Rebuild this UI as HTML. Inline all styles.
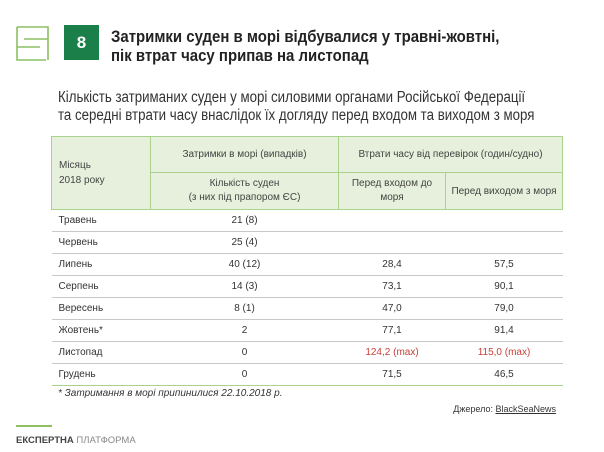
<!DOCTYPE html>
<html><head><meta charset="utf-8"><style>
body{margin:0;width:604px;height:452px;background:#fff;font-family:"Liberation Sans",sans-serif;position:relative;overflow:hidden;color:#222}
.a{position:absolute}
table{position:absolute;left:51px;top:136px;width:511px;border-collapse:collapse;font-size:10px;table-layout:fixed}
th{background:#e6f0dc;border:1px solid #a9d38c;font-weight:normal;color:#444;padding:0}
td{border-bottom:1px solid #c8c8c8;height:21px;padding:0;text-align:center;color:#333}
td:first-child{text-align:left;padding-left:7px}
tr:last-child td{border-bottom:1px solid #a9d38c}
.r{color:#c8403a}
</style></head><body>
<div class="a" style="left:16px;top:25px;width:34px;height:35px">
<svg width="36" height="36"><path d="M1 2H32V35M1 2V22M1 22V35H30M1 22H24M8 14H32" stroke="#8cc063" stroke-width="1.6" fill="none"/></svg></div>
<div class="a" style="left:64px;top:25px;width:35px;height:35px;background:#1a7f48;color:#fff;font-weight:bold;font-size:17px;text-align:center;line-height:35px">8</div>
<div class="a" style="left:111px;top:27px;font-size:17px;font-weight:bold;line-height:19px;color:#222;white-space:nowrap;transform:scaleX(0.88);transform-origin:0 0">Затримки суден в морі відбувалися у травні-жовтні,<br>пік втрат часу припав на листопад</div>
<div class="a" style="left:58px;top:89px;font-size:15.5px;line-height:18px;color:#333;white-space:nowrap;transform:scaleX(0.857);transform-origin:0 0">Кількість затриманих суден у морі силовими органами Російської Федерації<br>та середні втрати часу внаслідок їх догляду перед входом та виходом з моря</div>
<table>
<colgroup><col style="width:99px"><col style="width:188px"><col style="width:107px"><col style="width:117px"></colgroup>
<tr style="height:36px"><th rowspan="2" style="text-align:left;padding-left:7px;line-height:15px">Місяць<br>2018 року</th><th>Затримки в морі (випадків)</th><th colspan="2">Втрати часу від перевірок (годин/судно)</th></tr>
<tr style="height:37px"><th style="line-height:14px">Кількість суден<br>(з них під прапором ЄС)</th><th style="line-height:14px">Перед входом до<br>моря</th><th>Перед виходом з моря</th></tr>
<tr><td>Травень</td><td>21 (8)</td><td></td><td></td></tr>
<tr><td>Червень</td><td>25 (4)</td><td></td><td></td></tr>
<tr><td>Липень</td><td>40 (12)</td><td>28,4</td><td>57,5</td></tr>
<tr><td>Серпень</td><td>14 (3)</td><td>73,1</td><td>90,1</td></tr>
<tr><td>Вересень</td><td>8 (1)</td><td>47,0</td><td>79,0</td></tr>
<tr><td>Жовтень*</td><td>2</td><td>77,1</td><td>91,4</td></tr>
<tr><td>Листопад</td><td>0</td><td class="r">124,2 (max)</td><td class="r">115,0 (max)</td></tr>
<tr><td>Грудень</td><td>0</td><td>71,5</td><td>46,5</td></tr>
</table>
<div class="a" style="left:58px;top:388px;font-size:10px;font-style:italic;color:#333">* Затримання в морі припинилися 22.10.2018 р.</div>
<div class="a" style="right:48px;top:404px;font-size:9px;color:#333">Джерело: <span style="text-decoration:underline">BlackSeaNews</span></div>
<div class="a" style="left:16px;top:425px;width:36px;height:2px;background:#8cc063"></div>
<div class="a" style="left:16px;top:435px;font-size:9.5px;color:#444"><b>ЕКСПЕРТНА</b> <span style="color:#888">ПЛАТФОРМА</span></div>
</body></html>
